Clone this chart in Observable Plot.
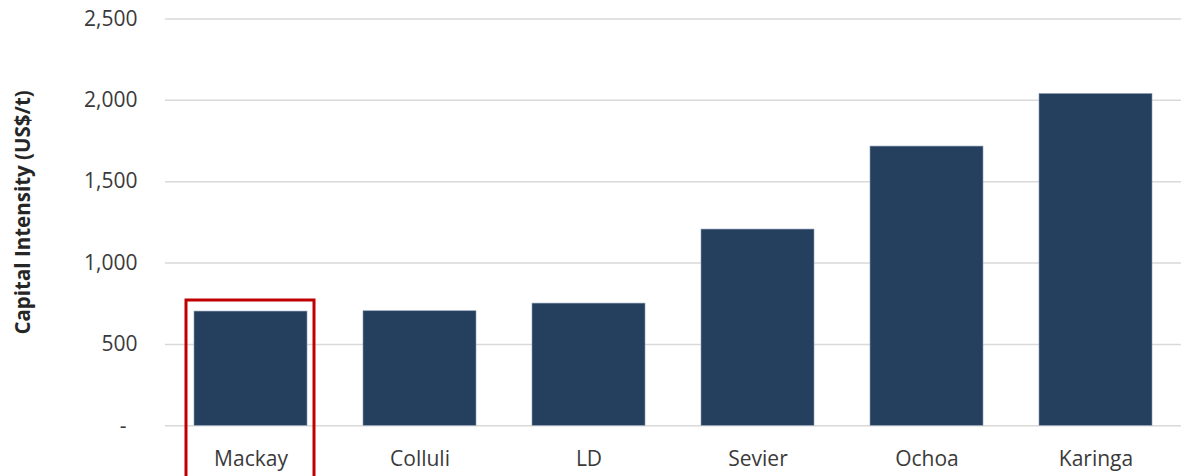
<!DOCTYPE html>
<html>
<head>
<meta charset="utf-8">
<script src="https://cdn.jsdelivr.net/npm/d3@7"></script>
<script src="https://cdn.jsdelivr.net/npm/@observablehq/plot@0.6"></script>
<style>
  html, body { margin: 0; padding: 0; background: #fff; }
</style>
</head>
<body>
<div id="chart"></div>
<script>
const categories = ["Mackay", "Colluli", "LD", "Sevier", "Ochoa", "Karinga"];
const values = [702, 704, 751, 1206, 1716, 2039];
const yTicks = [0, 500, 1000, 1500, 2000, 2500];
const yTickLabels = ["-\u00a0\u00a0", "500", "1,000", "1,500", "2,000", "2,500"];
const yTitle = "Capital Intensity (US$/t)";
const highlight = ["Mackay"];
const highlightTop = 770;
const highlightBottom = -330;

const data = categories.map((c, i) => ({ name: c, value: values[i] }));

const chart = Plot.plot({
  width: 1181,
  height: 476,
  marginLeft: 165,
  marginRight: 0,
  marginTop: 18.5,
  marginBottom: 50.7,
  style: { fontFamily: "'Open Sans', sans-serif", fontSize: "21px", color: "#3a3a3a", background: "#fff", overflow: "visible" },
  x: { domain: categories, paddingInner: 0.33, paddingOuter: 0.165, tickSize: 0, tickPadding: 25, label: null },
  y: { domain: [0, 2500], ticks: yTicks, tickFormat: d => yTickLabels[yTicks.indexOf(d)], tickSize: 0, tickPadding: 28, label: null },
  marks: [
    Plot.gridY(yTicks, { stroke: "#d9d9d9", strokeOpacity: 1, strokeWidth: 1.5 }),
    Plot.barY(data, { x: "name", y: "value", fill: "#253f5f", stroke: "#8a9bb3", strokeWidth: 0.6 }),
    Plot.barY(highlight, { x: d => d, y1: highlightBottom, y2: highlightTop, fill: "none", stroke: "#c00000", strokeWidth: 3, insetLeft: -8, insetRight: -7 }),
    Plot.text([yTitle], { text: d => d, frameAnchor: "left", textAnchor: "middle", dx: -142, dy: -10, rotate: -90, fontWeight: "bold", fontSize: 20.5, fill: "#262626" })
  ]
});
document.getElementById("chart").appendChild(chart);
</script>
</body>
</html>
